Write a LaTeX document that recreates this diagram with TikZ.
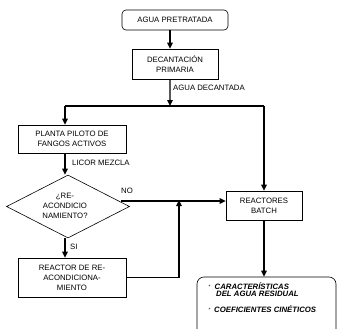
\documentclass[tikz,border=0pt]{standalone}
\usepackage{fontspec}
\setmainfont{Liberation Sans}
\usetikzlibrary{arrows.meta,shapes.geometric}
\begin{document}
\begin{tikzpicture}[x=1bp,y=-1bp,
  every node/.style={font=\fontsize{7.8}{10}\selectfont, align=center, inner sep=0pt},
  box/.style={draw, line width=0.6bp},
  conn/.style={line width=1.3bp},
  arr/.style={conn, -{Triangle[length=6bp,width=5.5bp]}},
  lbl/.style={anchor=west},
  restxt/.style={anchor=base west, align=left, font=\fontsize{7.8}{8.5}\selectfont\bfseries\itshape},
  star/.style={anchor=base west, font=\fontsize{5}{6}\selectfont}
]
\useasboundingbox (0,0) rectangle (338,329);
\begin{scope}
\clip (0,0) rectangle (338,329);
% nodes
\node[box, rounded corners=4bp, minimum width=106bp, minimum height=20bp] (pre) at (175,20) {AGUA PRETRATADA};
\node[box, minimum width=86bp, minimum height=30bp] (dec) at (175,64) {DECANTACIÓN\\PRIMARIA};
\node[box, minimum width=108bp, minimum height=28bp] (pla) at (72,139) {PLANTA PILOTO DE\\FANGOS ACTIVOS};
\node[box, diamond, minimum width=123bp, minimum height=63bp] (dia) at (68,206.5) {};
\node (diat) at (65,206) {¿RE-\\ACONDICIO\\NAMIENTO?};
\node[box, minimum width=76bp, minimum height=29bp] (bat) at (264,205.5) {REACTORES\\BATCH};
\node[box, minimum width=108bp, minimum height=39bp] (rea) at (72,277.5) {REACTOR DE RE-\\ACONDICIONA-\\MIENTO};
\node[box, rounded corners=7bp, minimum width=139bp, minimum height=70bp] (res) at (266.5,312) {};
\node[star] (s1) at (208.5,288.5) {*};
\node[restxt] (rest1) at (214.5,289) {CARACTERÍSTICAS};
\node[restxt] (rest1b) at (216,296.5) {DEL AGUA RESIDUAL};
\node[star] (s2) at (208.5,311.5) {*};
\node[restxt] (rest2) at (214,312) {COEFICIENTES CINÉTICOS};
% coordinates
\coordinate (split) at (170,106);
\coordinate (sl) at (65,106);
\coordinate (sr) at (264,106);
\coordinate (nostart) at (121,201);
\coordinate (j) at (179,201);
\coordinate (jb) at (179,277.5);
% connectors
\draw[arr] ([xshift=-5bp]pre.south) -- ([xshift=-5bp]dec.north);
\draw[arr] ([xshift=-5bp]dec.south) -- (split);
\draw[conn] (sl) -- (sr);
\draw[arr] (sl) -- (pla.north -| sl);
\draw[arr] (sr) -- (bat.north);
\draw[arr] (pla.south -| sl) -- (dia.north -| sl);
\draw[arr] (nostart) -- (bat.west |- nostart);
\draw[arr] (dia.south -| sl) -- (rea.north -| sl);
\draw[conn] (rea.east) -- (jb);
\draw[arr] (jb) -- ([yshift=1bp]j);
\draw[arr] (bat.south) -- (res.north -| bat.south);
% labels
\node[lbl] (l1) at (173,88) {AGUA DECANTADA};
\node[lbl] (l2) at (72,163) {LICOR MEZCLA};
\node (l3) at (127,191) {NO};
\node[lbl] (l4) at (70,247) {SI};
\end{scope}
\end{tikzpicture}
\end{document}
